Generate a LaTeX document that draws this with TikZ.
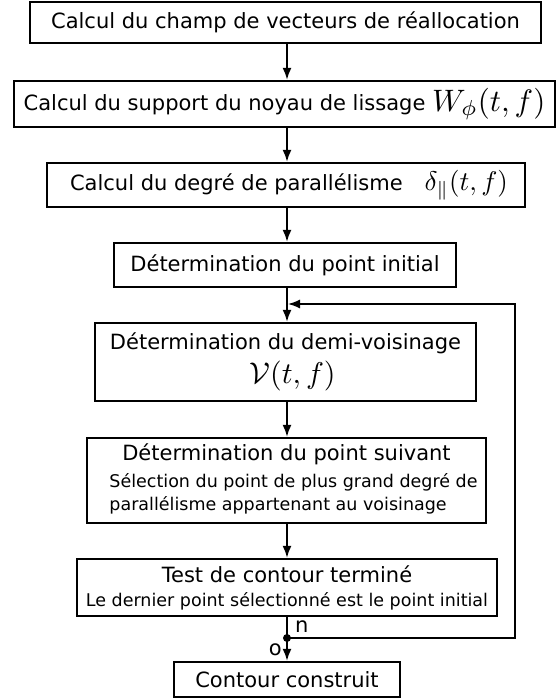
\documentclass[tikz,border=0pt]{standalone}
\usepackage{graphicx}
\usepackage{fontspec}
\setmainfont{DejaVu Sans}
\usetikzlibrary{arrows.meta,calc}
\newcommand{\bigmath}[2]{{\fontsize{10}{12}\selectfont\scalebox{#1}{$#2$}}}
\begin{document}
\begin{tikzpicture}[x=1pt,y=-1pt,
  box/.style={draw,line width=2.3pt,inner sep=0pt,align=center,font=\fontsize{21}{25}\selectfont},
  arr/.style={line width=1.8pt,-{Latex[length=12pt,width=9pt]}},
  loopline/.style={line width=1.5pt},
  lbl/.style={font=\fontsize{21}{25}\selectfont,inner sep=0pt}]
\useasboundingbox (0,0) rectangle (558,700);
\coordinate (ax) at (287,0);
\node[box,minimum width=511pt,minimum height=41pt] (b1) at (285.5,22.5) {Calcul du champ de vecteurs de réallocation};
\node[box,minimum width=541pt,minimum height=46pt] (b2) at (284.5,104) {Calcul du support du noyau de lissage \raisebox{-1pt}{\bigmath{3.1}{W_\phi(t,f)}}};
\node[box,minimum width=478pt,minimum height=44pt] (b3) at (286,185) {\hspace*{6pt}Calcul du degré de parallélisme\hspace{22pt}\bigmath{2.7}{\delta_\parallel(t,f)}};
\node[box,minimum width=342pt,minimum height=44pt] (b4) at (285,265) {Détermination du point initial};
\node[box,minimum width=381pt,minimum height=78pt] (b5) at (285.5,362) {Détermination du demi-voisinage\\[6pt]\hspace*{14pt}\bigmath{3.0}{\mathcal{V}(t,f)}};
\node[box,minimum width=399pt,minimum height=85pt] (b6) at (286.5,480.5) {Détermination du point suivant\\[6pt]{\fontsize{17.5}{22.5}\selectfont\hspace*{14pt}\begin{tabular}{@{}l@{}}Sélection du point de plus grand degré de\\parallélisme appartenant au voisinage\end{tabular}}};
\node[box,minimum width=420pt,minimum height=57pt] (b7) at (287,587.5) {Test de contour terminé\\[-1pt]{\fontsize{17.5}{22}\selectfont Le dernier point sélectionné est le point initial}};
\node[box,minimum width=226pt,minimum height=35pt] (b8) at (287,679.5) {Contour construit};
\coordinate (j) at (287,638);
\coordinate (r1) at (515,638);
\coordinate (r2) at (515,304);
\coordinate (r3) at (288,304);
\draw[arr] (b1.south -| ax) -- (b2.north -| ax);
\draw[arr] (b2.south -| ax) -- (b3.north -| ax);
\draw[arr] (b3.south -| ax) -- (b4.north -| ax);
\draw[arr] (b4.south -| ax) -- (b5.north -| ax);
\draw[arr] (b5.south -| ax) -- (b6.north -| ax);
\draw[arr] (b6.south -| ax) -- (b7.north -| ax);
\draw[line width=1.8pt] (b7.south -| ax) -- (j);
\draw[arr] (j) -- (b8.north -| ax);
\draw[loopline,-{Latex[length=12pt,width=9pt]}] (j) -- (r1) -- (r2) -- (r3);
\fill (j) circle (4pt);
\node[lbl,anchor=west] (n) at (295,627) {n};
\node[lbl,anchor=east] (o) at (282,650) {o};
\end{tikzpicture}
\end{document}
